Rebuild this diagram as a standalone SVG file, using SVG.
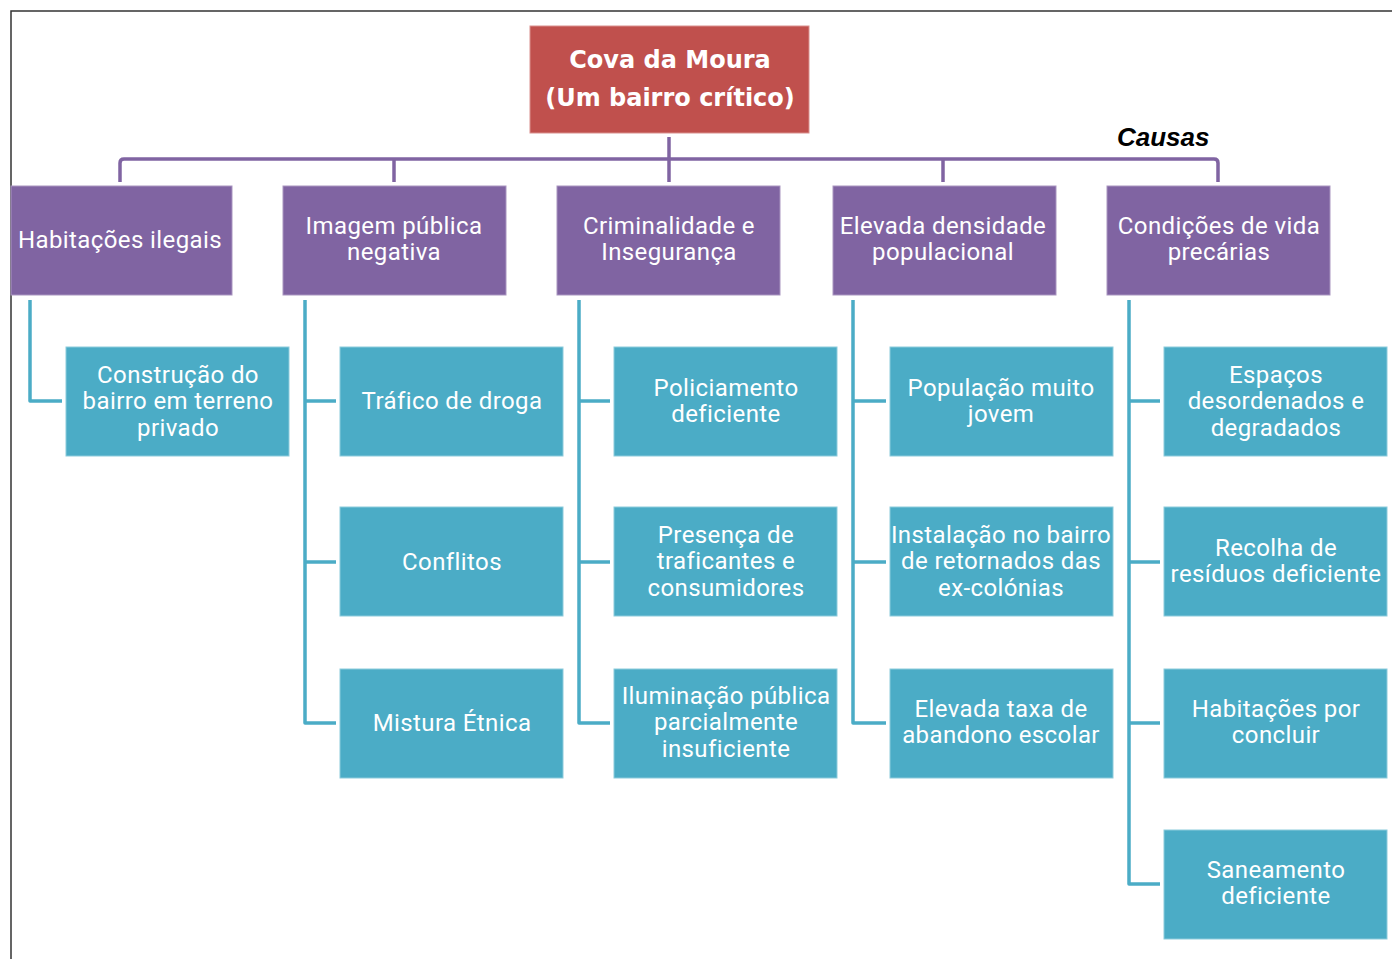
<svg xmlns="http://www.w3.org/2000/svg" width="1392" height="959" viewBox="0 0 1392 959">
  <style>
    .root { fill: #C0504D; stroke: #D9908E; stroke-width: 1; }
    .cause { fill: #8064A2; stroke: #A995C0; stroke-width: 1; }
    .item { fill: #4BACC6; stroke: #8CCBDC; stroke-width: 1; }
    .rootText { font-family: "DejaVu Sans", Verdana, sans-serif; font-weight: bold; font-size: 24px; fill: #FFFFFF; text-anchor: middle; }
    .label { font-family: Roboto, "Liberation Sans", sans-serif; font-size: 24px; letter-spacing: 0.4px; fill: #FFFFFF; text-anchor: middle; }
    .title { font-family: "Liberation Sans", Arial, sans-serif; font-weight: bold; font-style: italic; font-size: 26px; fill: #000000; }
    .purpleLink { fill: none; stroke: #8064A2; stroke-width: 3.5; stroke-linejoin: round; }
    .tealLink { fill: none; stroke: #4BACC6; stroke-width: 3.5; stroke-linejoin: round; }
  </style>

  <rect width="1392" height="959" fill="#FFFFFF"/>
  <!-- frame -->
  <path d="M11,959 V11 H1392" fill="none" stroke="#333333" stroke-width="1.5"/>

  <text class="title" x="1117" y="146">Causas</text>

  <g id="connectors">
    <path class="purpleLink" d="M669,137 V182"/>
    <path class="purpleLink" d="M120,182 V163 Q120,159 124,159 H1214 Q1218,159 1218,163 V182"/>
    <path class="purpleLink" d="M394,159 V182"/>
    <path class="purpleLink" d="M943,159 V182"/>

    <path class="tealLink" d="M30,300 V401 H62"/>
    <path class="tealLink" d="M305,300 V723 H336 M305,401 H336 M305,562 H336"/>
    <path class="tealLink" d="M579,300 V723 H610 M579,401 H610 M579,562 H610"/>
    <path class="tealLink" d="M853,300 V723 H886 M853,401 H886 M853,562 H886"/>
    <path class="tealLink" d="M1129,300 V884 H1160 M1129,401 H1160 M1129,562 H1160 M1129,723 H1160"/>
  </g>

  <g id="root">
    <rect class="root" x="530" y="26" width="279" height="107"/>
    <text class="rootText" x="670" y="68">Cova da Moura</text>
    <text class="rootText" x="670" y="106">(Um bairro crítico)</text>
  </g>

  <g id="cause-habitacoes">
    <rect class="cause" x="11" y="186" width="221" height="109"/>
    <text class="label" x="120" y="248">Habitações ilegais</text>
  </g>
  <g id="cause-imagem">
    <rect class="cause" x="283" y="186" width="223" height="109"/>
    <text class="label" x="394" y="234">Imagem pública</text>
    <text class="label" x="394" y="260">negativa</text>
  </g>
  <g id="cause-criminalidade">
    <rect class="cause" x="557" y="186" width="223" height="109"/>
    <text class="label" x="669" y="234">Criminalidade e</text>
    <text class="label" x="669" y="260">Insegurança</text>
  </g>
  <g id="cause-densidade">
    <rect class="cause" x="833" y="186" width="223" height="109"/>
    <text class="label" x="943" y="234">Elevada densidade</text>
    <text class="label" x="943" y="260">populacional</text>
  </g>
  <g id="cause-condicoes">
    <rect class="cause" x="1107" y="186" width="223" height="109"/>
    <text class="label" x="1219" y="234">Condições de vida</text>
    <text class="label" x="1219" y="260">precárias</text>
  </g>

  <g id="item-construcao">
    <rect class="item" x="66" y="347" width="223" height="109"/>
    <text class="label" x="178" y="383">Construção do</text>
    <text class="label" x="178" y="409">bairro em terreno</text>
    <text class="label" x="178" y="436">privado</text>
  </g>

  <g id="item-trafico">
    <rect class="item" x="340" y="347" width="223" height="109"/>
    <text class="label" x="452" y="409">Tráfico de droga</text>
  </g>
  <g id="item-conflitos">
    <rect class="item" x="340" y="507" width="223" height="109"/>
    <text class="label" x="452" y="570">Conflitos</text>
  </g>
  <g id="item-mistura">
    <rect class="item" x="340" y="669" width="223" height="109"/>
    <text class="label" x="452" y="731">Mistura Étnica</text>
  </g>

  <g id="item-policiamento">
    <rect class="item" x="614" y="347" width="223" height="109"/>
    <text class="label" x="726" y="396">Policiamento</text>
    <text class="label" x="726" y="422">deficiente</text>
  </g>
  <g id="item-presenca">
    <rect class="item" x="614" y="507" width="223" height="109"/>
    <text class="label" x="726" y="543">Presença de</text>
    <text class="label" x="726" y="569">traficantes e</text>
    <text class="label" x="726" y="596">consumidores</text>
  </g>
  <g id="item-iluminacao">
    <rect class="item" x="614" y="669" width="223" height="109"/>
    <text class="label" x="726" y="704">Iluminação pública</text>
    <text class="label" x="726" y="730">parcialmente</text>
    <text class="label" x="726" y="757">insuficiente</text>
  </g>

  <g id="item-populacao">
    <rect class="item" x="890" y="347" width="223" height="109"/>
    <text class="label" x="1001" y="396">População muito</text>
    <text class="label" x="1001" y="422">jovem</text>
  </g>
  <g id="item-instalacao">
    <rect class="item" x="890" y="507" width="223" height="109"/>
    <text class="label" x="1001" y="543" letter-spacing="0">Instalação no bairro</text>
    <text class="label" x="1001" y="569">de retornados das</text>
    <text class="label" x="1001" y="596">ex-colónias</text>
  </g>
  <g id="item-abandono">
    <rect class="item" x="890" y="669" width="223" height="109"/>
    <text class="label" x="1001" y="717">Elevada taxa de</text>
    <text class="label" x="1001" y="743">abandono escolar</text>
  </g>

  <g id="item-espacos">
    <rect class="item" x="1164" y="347" width="223" height="109"/>
    <text class="label" x="1276" y="383">Espaços</text>
    <text class="label" x="1276" y="409">desordenados e</text>
    <text class="label" x="1276" y="436">degradados</text>
  </g>
  <g id="item-recolha">
    <rect class="item" x="1164" y="507" width="223" height="109"/>
    <text class="label" x="1276" y="556">Recolha de</text>
    <text class="label" x="1276" y="582" letter-spacing="0">resíduos deficiente</text>
  </g>
  <g id="item-habitacoes">
    <rect class="item" x="1164" y="669" width="223" height="109"/>
    <text class="label" x="1276" y="717">Habitações por</text>
    <text class="label" x="1276" y="743">concluir</text>
  </g>
  <g id="item-saneamento">
    <rect class="item" x="1164" y="830" width="223" height="109"/>
    <text class="label" x="1276" y="878">Saneamento</text>
    <text class="label" x="1276" y="904">deficiente</text>
  </g>
</svg>
